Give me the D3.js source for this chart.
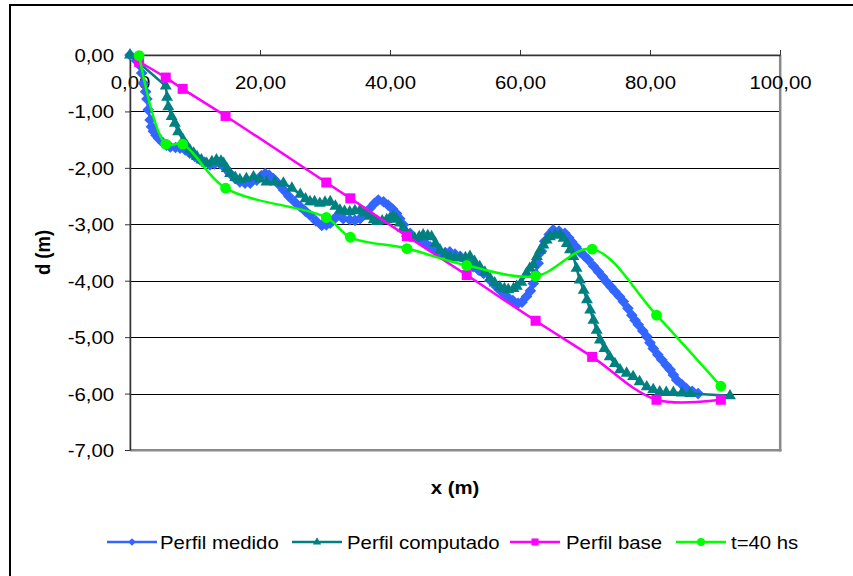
<!DOCTYPE html>
<html>
<head>
<meta charset="utf-8">
<script src="https://cdn.jsdelivr.net/npm/d3@7"></script>
<style>
  body { margin: 0; background: #fff; }
  text { font-family: "Liberation Sans", Arial, sans-serif; }
</style>
</head>
<body>
<svg id="chart" width="853" height="576"></svg>
<script>
// Survey stations shared by the base profile and the t=40 hs profile (x in m)
const stationX = [1.4, 5.5, 8.1, 14.7, 30.2, 33.9, 42.6, 51.8, 62.4, 71.1, 81.0, 90.9];
const baseD    = [-0.12, -0.40, -0.60, -1.08, -2.26, -2.54, -3.21, -3.90, -4.71, -5.35, -6.11, -6.11];
const t40D     = [-0.01, -1.58, -1.58, -2.36, -2.88, -3.23, -3.43, -3.73, -3.92, -3.44, -4.61, -5.87];

// Measured profile
const medidoX = [0.0, 1.0, 1.5, 1.8, 2.05, 2.4, 2.6, 2.8, 3.1, 3.3, 3.6, 4.0, 4.4, 5.1, 5.6, 6.2, 7.0, 7.7,
  8.5, 9.2, 10.0, 10.8, 11.5, 12.3, 13.0, 13.8, 14.6, 15.4, 16.2, 16.9, 17.7, 18.5, 19.5, 20.2, 20.8, 21.4,
  22.05, 22.8, 23.6, 24.4, 25.3, 26.2, 27.0, 27.7, 28.6, 29.5, 30.2, 30.8, 31.3, 31.8, 32.8, 33.8, 34.6,
  35.4, 36.2, 36.9, 37.6, 38.2, 39.0, 39.7, 40.4, 41.0, 41.5, 42.05, 43.1, 44.6, 45.4, 46.2, 47.0, 47.7,
  48.5, 49.2, 50.0, 50.8, 51.8, 52.8, 53.6, 54.4, 55.4, 56.4, 57.2, 58.0, 58.9, 59.7, 60.3, 61.0, 61.6,
  62.05, 62.4, 62.8, 63.3, 63.8, 64.5, 65.1, 66.0, 66.9, 67.5, 67.95, 68.6, 69.2, 69.9, 70.5, 71.3, 72.05,
  72.7, 73.3, 74.0, 74.6, 75.3, 75.9, 76.6, 77.2, 77.7, 78.2, 78.9, 79.5, 80.0, 80.5, 81.2, 81.8, 82.5,
  83.1, 83.6, 84.1, 84.9, 85.6, 86.5, 87.4];
const medidoD = [0.00, -0.10, -0.18, -0.32, -0.50, -0.65, -0.78, -0.97, -1.15, -1.27, -1.35, -1.42, -1.48,
  -1.56, -1.60, -1.63, -1.64, -1.65, -1.68, -1.74, -1.80, -1.86, -1.90, -1.95, -1.93, -1.92, -2.00, -2.10,
  -2.19, -2.25, -2.27, -2.27, -2.22, -2.14, -2.10, -2.13, -2.19, -2.28, -2.39, -2.50, -2.60, -2.69, -2.77,
  -2.84, -2.94, -3.02, -3.01, -2.98, -2.92, -2.86, -2.90, -2.92, -2.93, -2.90, -2.80, -2.72, -2.63, -2.57,
  -2.60, -2.66, -2.73, -2.81, -2.90, -3.01, -3.16, -3.25, -3.33, -3.40, -3.46, -3.51, -3.50, -3.49, -3.53,
  -3.57, -3.66, -3.75, -3.81, -3.87, -3.99, -4.11, -4.20, -4.28, -4.35, -4.40, -4.38, -4.28, -4.18, -4.05,
  -3.88, -3.69, -3.48, -3.30, -3.18, -3.10, -3.12, -3.16, -3.24, -3.31, -3.40, -3.49, -3.56, -3.63, -3.74,
  -3.84, -3.93, -4.02, -4.11, -4.19, -4.28, -4.37, -4.49, -4.61, -4.70, -4.78, -4.89, -4.99, -5.10, -5.20,
  -5.31, -5.40, -5.50, -5.58, -5.67, -5.76, -5.84, -5.91, -5.96, -6.00];

// Computed profile
const computadoX = [0.0, 5.5, 5.7, 5.9, 6.4, 6.9, 7.4, 8.2, 8.7, 9.2, 9.8, 10.3, 11.0, 11.8, 12.6, 13.3,
  14.0, 14.4, 14.9, 15.4, 16.2, 16.9, 17.9, 19.0, 20.0, 21.0, 22.3, 23.6, 24.9, 26.2, 27.0, 27.7, 28.4,
  29.2, 30.0, 30.8, 31.6, 32.3, 33.0, 33.8, 34.6, 35.4, 36.1, 36.9, 37.5, 38.0, 38.8, 39.5, 40.0, 40.5,
  41.0, 41.5, 42.0, 42.6, 43.2, 43.8, 44.5, 45.1, 45.8, 46.4, 47.0, 47.7, 48.5, 49.2, 50.0, 50.8, 51.6,
  52.3, 53.0, 53.8, 54.6, 55.4, 56.1, 56.9, 57.6, 58.2, 59.0, 59.5, 60.2, 61.0, 61.5, 62.05, 62.6, 63.1,
  63.6, 64.1, 64.6, 65.4, 66.15, 66.7, 67.2, 67.7, 68.2, 68.7, 69.2, 69.8, 70.3, 70.8, 71.3, 71.8, 72.3,
  73.0, 73.8, 74.6, 75.4, 76.4, 77.4, 78.4, 79.5, 80.5, 81.5, 82.5, 83.6, 84.9, 86.2, 92.3];
const computadoD = [0.00, -0.55, -0.75, -0.92, -1.09, -1.21, -1.36, -1.51, -1.60, -1.68, -1.74, -1.80,
  -1.86, -1.92, -1.89, -1.86, -1.88, -1.92, -2.01, -2.10, -2.17, -2.21, -2.19, -2.16, -2.20, -2.25, -2.25,
  -2.27, -2.36, -2.47, -2.55, -2.60, -2.60, -2.63, -2.61, -2.60, -2.68, -2.75, -2.77, -2.78, -2.76, -2.75,
  -2.80, -2.86, -2.92, -2.95, -2.94, -2.92, -2.89, -2.86, -2.91, -2.98, -3.07, -3.16, -3.21, -3.25, -3.22,
  -3.19, -3.20, -3.22, -3.34, -3.46, -3.53, -3.57, -3.59, -3.60, -3.59, -3.57, -3.66, -3.75, -3.85, -3.96,
  -4.04, -4.11, -4.14, -4.16, -4.14, -4.10, -4.03, -3.87, -3.78, -3.72, -3.57, -3.46, -3.37, -3.28, -3.22,
  -3.19, -3.19, -3.25, -3.34, -3.45, -3.57, -3.78, -3.99, -4.17, -4.34, -4.52, -4.70, -4.88, -5.05, -5.20,
  -5.35, -5.47, -5.58, -5.64, -5.70, -5.79, -5.88, -5.93, -5.97, -5.98, -5.98, -5.99, -6.00, -6.04];

const xTicks = [0, 20, 40, 60, 80, 100];
const yTicks = [0, -1, -2, -3, -4, -5, -6, -7];
const gridValues = [-1, -2, -3, -4, -5, -6];

const seriesNames  = ["Perfil medido", "Perfil computado", "Perfil base", "t=40 hs"];
const seriesColors = ["#3366FF", "#008080", "#FF00FF", "#00FF00"];

const zip = (xs, ds) => xs.map((v, i) => ({ x: v, d: ds[i] }));
const series = [
  { name: seriesNames[0], color: seriesColors[0], pts: zip(medidoX, medidoD),       marker: "diamond",  smooth: false },
  { name: seriesNames[1], color: seriesColors[1], pts: zip(computadoX, computadoD), marker: "triangle", smooth: false },
  { name: seriesNames[2], color: seriesColors[2], pts: zip(stationX, baseD),        marker: "square",   smooth: true },
  { name: seriesNames[3], color: seriesColors[3], pts: zip(stationX, t40D),         marker: "circle",   smooth: true }
];

const W = 853, H = 576;
const plot = { left: 130, right: 780, top: 55, bottom: 450 };
const SX = 1.1;       // horizontal stretch of the lettering
const FS = 18.5;

const svg = d3.select("#chart");
const x = d3.scaleLinear().domain([0, 100]).range([plot.left, plot.right]);
const y = d3.scaleLinear().domain([0, -7]).range([plot.top, plot.bottom]);

const comma = d3.formatLocale({ decimal: ",", thousands: ".", grouping: [3], currency: ["", ""], minus: "-" });
const fmt = comma.format(".2f");

// outer chart frame
svg.append("rect").attr("x", 10).attr("y", 5).attr("width", W + 20).attr("height", H + 20)
  .attr("fill", "#fff").attr("stroke", "#000").attr("stroke-width", 2);

// plot area
svg.append("rect").attr("x", plot.left).attr("y", plot.top)
  .attr("width", plot.right - plot.left).attr("height", plot.bottom - plot.top)
  .attr("fill", "#fff").attr("stroke", "#808080").attr("stroke-width", 1);
svg.append("line").attr("x1", plot.right + 0.2).attr("x2", plot.right + 0.2)
  .attr("y1", plot.top).attr("y2", plot.bottom + 1.4)
  .attr("stroke", "#8a8a8a").attr("stroke-width", 2.5);
svg.append("line").attr("x1", plot.left).attr("x2", plot.right + 1.4)
  .attr("y1", plot.bottom + 0.2).attr("y2", plot.bottom + 0.2)
  .attr("stroke", "#8a8a8a").attr("stroke-width", 2.5);

// horizontal gridlines
svg.append("g").selectAll("line").data(gridValues).join("line")
  .attr("x1", plot.left).attr("x2", plot.right - 1)
  .attr("y1", d => Math.round(y(d)) + 0.5).attr("y2", d => Math.round(y(d)) + 0.5)
  .attr("stroke", "#000").attr("stroke-width", 1);

// x axis along the top (depth 0), labels hanging inside the plot
const gx = svg.append("g").attr("transform", `translate(0,${plot.top})`)
  .call(d3.axisTop(x).tickValues(xTicks).tickFormat(fmt).tickSize(5).tickSizeOuter(0));
gx.select(".domain").attr("stroke", "#333").attr("stroke-width", 1.5);
gx.selectAll(".tick line").attr("stroke", "#333");
gx.selectAll(".tick text")
  .attr("y", 34).attr("dy", null).attr("fill", "#000")
  .attr("font-size", FS).attr("font-family", "Liberation Sans, Arial, sans-serif")
  .attr("transform", `scale(${SX},1)`);

// y axis
const gy = svg.append("g").attr("transform", `translate(${plot.left},0)`)
  .call(d3.axisLeft(y).tickValues(yTicks).tickFormat(fmt).tickSize(5).tickSizeOuter(0));
gy.select(".domain").attr("stroke", "#333").attr("stroke-width", 1.5);
gy.selectAll(".tick line").attr("stroke", "#333");
gy.selectAll(".tick text")
  .attr("x", -16 / SX).attr("dy", "0.35em").attr("fill", "#000")
  .attr("font-size", FS).attr("font-family", "Liberation Sans, Arial, sans-serif")
  .attr("transform", `scale(${SX},1)`);

// axis titles
svg.append("text")
  .attr("transform", `translate(${(plot.left + plot.right) / 2},494) scale(${SX},1)`)
  .attr("text-anchor", "middle").attr("font-size", FS).attr("font-weight", "bold").text("x (m)");
svg.append("text")
  .attr("transform", `translate(50,${(plot.top + plot.bottom) / 2}) rotate(-90) scale(1,${SX})`)
  .attr("text-anchor", "middle").attr("font-size", FS).attr("font-weight", "bold").text("d (m)");

// markers
const markerPath = {
  diamond:  d3.symbol(d3.symbolSquare, 68)(),
  triangle: d3.symbol(d3.symbolTriangle, 62)(),
  square:   d3.symbol(d3.symbolSquare, 100)(),
  circle:   d3.symbol(d3.symbolCircle, 92)()
};
const markerRot = { diamond: 45, triangle: 0, square: 0, circle: 0 };

const linear = d3.line().x(p => x(p.x)).y(p => y(p.d));
const smooth = d3.line().x(p => x(p.x)).y(p => y(p.d)).curve(d3.curveCatmullRom.alpha(0.5));

series.forEach(s => {
  const g = svg.append("g");
  g.append("path").datum(s.pts)
    .attr("d", s.smooth ? smooth : linear)
    .attr("fill", "none").attr("stroke", s.color).attr("stroke-width", 2.5)
    .attr("stroke-linejoin", "round");
  g.selectAll("path.m").data(s.pts).join("path").attr("class", "m")
    .attr("d", markerPath[s.marker])
    .attr("transform", p => `translate(${x(p.x)},${y(p.d)}) rotate(${markerRot[s.marker]})`)
    .attr("fill", s.color);
});

// legend
const legendItems = [
  { lx: 107, tx: 160 },
  { lx: 292, tx: 347 },
  { lx: 510, tx: 566 },
  { lx: 676, tx: 731 }
];
const legendMarker = {
  diamond:  d3.symbol(d3.symbolSquare, 30)(),
  triangle: d3.symbol(d3.symbolTriangle, 30)(),
  square:   d3.symbol(d3.symbolSquare, 50)(),
  circle:   d3.symbol(d3.symbolCircle, 50)()
};
const lg = svg.append("g");
series.forEach((s, i) => {
  const it = legendItems[i];
  const ly = 542;
  lg.append("line").attr("x1", it.lx).attr("x2", it.lx + 50).attr("y1", ly).attr("y2", ly)
    .attr("stroke", s.color).attr("stroke-width", 2.5);
  lg.append("path").attr("d", legendMarker[s.marker])
    .attr("transform", `translate(${it.lx + 25},${ly}) rotate(${markerRot[s.marker]})`)
    .attr("fill", s.color);
  lg.append("text")
    .attr("transform", `translate(${it.tx},${ly + 6.5}) scale(${SX},1)`)
    .attr("font-size", FS).attr("fill", "#000").text(s.name);
});
</script>
</body>
</html>
